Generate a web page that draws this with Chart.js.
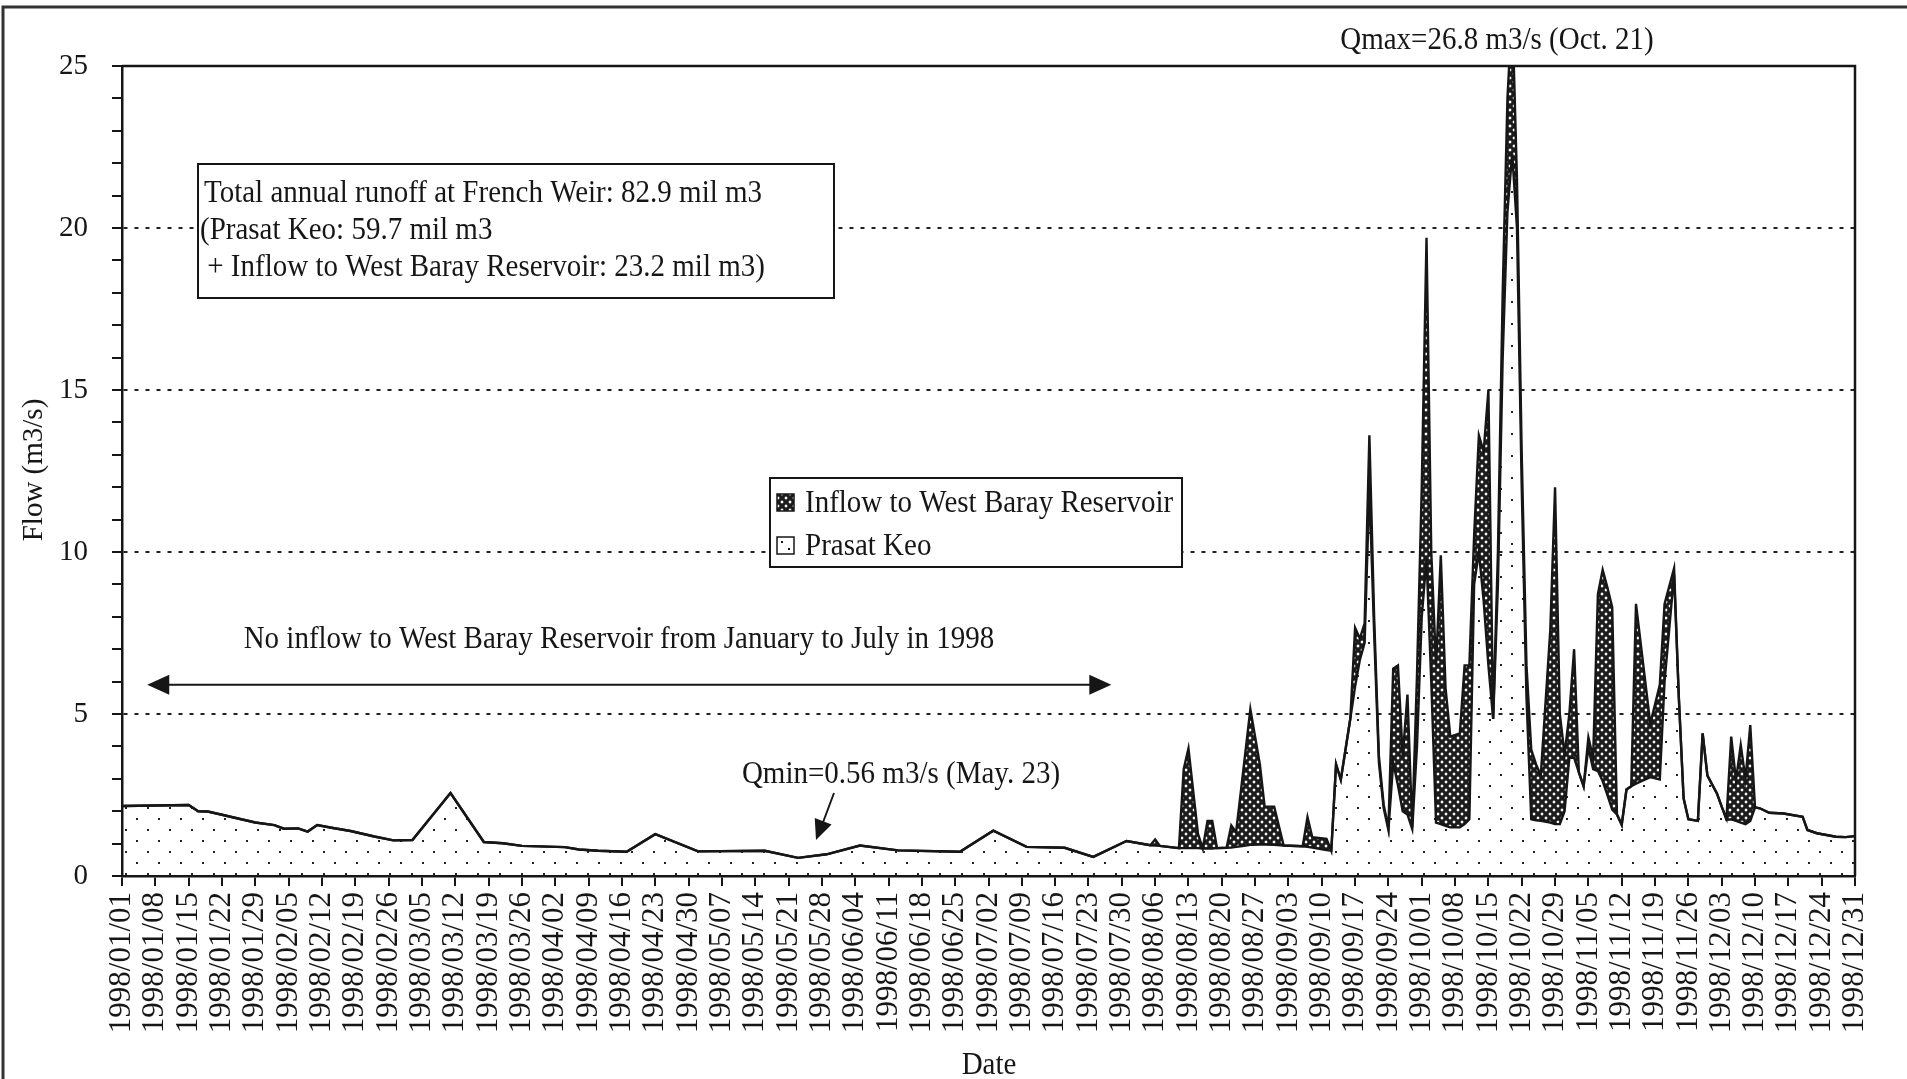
<!DOCTYPE html>
<html>
<head>
<meta charset="utf-8">
<script src="https://cdn.jsdelivr.net/npm/chart.js@4.4.1/dist/chart.umd.min.js"></script>
<style>
  html, body { margin: 0; padding: 0; background: #fff; }
</style>
</head>
<body>
<canvas id="flowChart" width="1907" height="1079"></canvas>
<script>
// day of year (0 = 1998/01/01) of each vertex of the hydrograph
const days = [
  0, 14, 16, 18, 21, 23, 28,
  32, 34, 37, 39, 41, 44, 48, 53, 57,
  61, 69, 76, 80, 84,
  93, 96, 100, 106, 112,
  121, 135, 142, 148,
  155, 163, 176,
  183, 190, 198, 204, 211,
  216, 217, 218, 222, 223, 224, 226, 227, 228, 229, 230, 232, 233, 234, 235, 237, 239, 240, 242,
  244, 248, 249, 250, 253, 254, 255, 256, 258, 259, 260, 261, 262, 263, 264, 265, 266, 267, 268, 269, 270, 271, 272,
  273, 274, 275, 276, 277, 278, 279, 281, 282, 283, 284, 285, 286, 287, 288, 289, 290, 291, 292, 293, 294, 295, 296, 297, 298, 300, 301, 302, 303,
  304, 305, 306, 307, 308, 309, 310, 311, 312, 313, 314, 315, 316, 317, 318, 321, 323, 324, 326, 327, 328, 329, 331, 332, 333,
  335, 336, 337, 338, 339, 340, 341, 342, 343, 344, 346, 349, 353, 354, 356, 360, 362, 364
];

// Prasat Keo flow (m3/s)
const prasatKeo = [
  2.16, 2.19, 2.00, 1.99, 1.89, 1.82, 1.65,
  1.57, 1.46, 1.47, 1.37, 1.57, 1.49, 1.39, 1.22, 1.10,
  1.11, 2.56, 1.05, 1.01, 0.93,
  0.89, 0.82, 0.78, 0.75, 1.29,
  0.76, 0.78, 0.56, 0.67,
  0.94, 0.79, 0.75,
  1.40, 0.90, 0.87, 0.59, 1.08,
  0.95, 0.94, 0.93, 0.86, 0.86, 0.86, 0.86, 0.85, 0.85, 0.85, 0.86, 0.87, 0.88, 0.90, 0.92, 0.96, 0.97, 0.97, 0.96,
  0.94, 0.92, 0.90, 0.88, 0.80, 0.78, 3.45, 2.97, 4.86, 5.85, 6.67, 7.20, 12.0, 7.50, 3.50, 2.10, 1.42, 3.50, 2.80, 2.00, 1.90, 1.45, 4.00,
  8.00, 9.80, 6.00, 1.65, 1.60, 1.55, 1.50, 1.50, 1.60, 1.75, 9.00, 10.0, 8.50, 6.50, 4.85, 9.00, 16.0, 20.5, 22.3, 20.0, 12.0, 5.50, 1.75, 1.72, 1.70, 1.65, 1.60, 1.60, 2.00,
  3.65, 3.65, 3.20, 2.77, 3.96, 3.30, 3.24, 2.93, 2.50, 2.05, 1.90, 1.58, 2.67, 2.77, 2.85, 3.05, 2.98, 6.00, 9.30, 5.50, 2.40, 1.75, 1.70, 4.40, 3.10,
  2.55, 2.14, 1.73, 1.75, 1.70, 1.65, 1.60, 1.70, 2.12, 2.09, 1.95, 1.93, 1.83, 1.42, 1.32, 1.21, 1.20, 1.23
];

// total flow at French Weir = Prasat Keo + inflow to West Baray Reservoir (m3/s)
const totalFlow = [
  2.16, 2.19, 2.00, 1.99, 1.89, 1.82, 1.65,
  1.57, 1.46, 1.47, 1.37, 1.57, 1.49, 1.39, 1.22, 1.10,
  1.11, 2.56, 1.05, 1.01, 0.93,
  0.89, 0.82, 0.78, 0.75, 1.29,
  0.76, 0.78, 0.56, 0.67,
  0.94, 0.79, 0.75,
  1.40, 0.90, 0.87, 0.59, 1.08,
  0.95, 1.13, 0.93, 0.86, 3.30, 3.94, 1.30, 0.85, 1.70, 1.70, 0.86, 0.87, 1.56, 1.35, 2.60, 5.15, 3.44, 2.14, 2.14,
  0.94, 0.92, 1.82, 1.20, 1.15, 0.78, 3.45, 2.97, 4.86, 7.66, 7.33, 7.80, 13.6, 8.00, 3.70, 2.20, 1.48, 6.40, 6.50, 3.70, 5.60, 1.50, 6.20,
  12.0, 19.7, 10.0, 6.50, 9.90, 5.80, 4.30, 4.40, 6.50, 6.50, 10.5, 13.6, 13.1, 15.0, 4.85, 10.0, 18.0, 24.0, 26.8, 21.5, 13.0, 6.50, 3.90, 3.45, 3.10, 7.60, 12.0, 5.00, 3.75,
  5.00, 7.00, 3.20, 2.77, 4.28, 3.65, 8.70, 9.45, 8.90, 8.30, 1.90, 1.58, 2.67, 2.77, 8.40, 4.70, 5.90, 8.40, 9.50, 5.50, 2.40, 1.75, 1.70, 4.40, 3.10,
  2.55, 2.14, 1.78, 4.30, 2.96, 4.04, 3.00, 4.66, 2.12, 2.09, 1.95, 1.93, 1.83, 1.42, 1.32, 1.21, 1.20, 1.23
];

const seriesNames = ['Inflow to West Baray Reservoir', 'Prasat Keo'];
const boxLines = [
  'Total annual runoff at French Weir: 82.9 mil m3',
  '(Prasat Keo: 59.7 mil m3',
  ' + Inflow to West Baray Reservoir: 23.2 mil m3)'
];

const FONT = '"Liberation Serif", "Times New Roman", serif';
const INK = '#161616';
Chart.defaults.font.family = FONT;
Chart.defaults.font.size = 29;
Chart.defaults.color = INK;

const canvas = document.getElementById('flowChart');
const ctx = canvas.getContext('2d');

function makePattern(w, h, paint) {
  const c = document.createElement('canvas');
  c.width = w;
  c.height = h;
  paint(c.getContext('2d'));
  return ctx.createPattern(c, 'repeat');
}

// sparse dots for Prasat Keo
const dotFill = makePattern(22, 22, g => {
  g.fillStyle = '#222';
  g.fillRect(4, 4, 2, 2);
  g.fillRect(15, 15, 2, 2);
});

// dark cross-hatch for the inflow to West Baray
const hatchFill = makePattern(8, 8, g => {
  g.fillStyle = '#1c1c1c';
  g.fillRect(0, 0, 8, 8);
  g.fillStyle = '#fff';
  for (const [cx, cy] of [[2, 2], [6, 6]]) {
    g.beginPath();
    g.moveTo(cx, cy - 1.7); g.lineTo(cx + 1.7, cy); g.lineTo(cx, cy + 1.7); g.lineTo(cx - 1.7, cy);
    g.closePath();
    g.fill();
  }
});

function dateLabel(v) {
  const d = new Date(Date.UTC(1998, 0, 1) + v * 86400000);
  const mm = String(d.getUTCMonth() + 1).padStart(2, '0');
  const dd = String(d.getUTCDate()).padStart(2, '0');
  return d.getUTCFullYear() + '/' + mm + '/' + dd;
}

function arrowHead(g, x1, y1, x2, y2, len, half) {
  const a = Math.atan2(y2 - y1, x2 - x1);
  g.beginPath();
  g.moveTo(x2, y2);
  g.lineTo(x2 - len * Math.cos(a) + half * Math.sin(a), y2 - len * Math.sin(a) - half * Math.cos(a));
  g.lineTo(x2 - len * Math.cos(a) - half * Math.sin(a), y2 - len * Math.sin(a) + half * Math.cos(a));
  g.closePath();
  g.fill();
}

// the scanned figure is a little taller than wide, so stretch the notes
function tallText(g, s, x, y) {
  g.save();
  g.translate(x, y);
  g.scale(1, 1.12);
  g.fillText(s, 0, 0);
  g.restore();
}

// frame, text box, legend, notes and arrows
const annotate = {
  id: 'annotate',
  afterDraw(chart) {
    const g = chart.ctx;
    const a = chart.chartArea;
    const x = chart.scales.x, y = chart.scales.y;
    g.save();
    g.strokeStyle = INK;
    g.fillStyle = INK;

    // plot frame top and right
    g.lineWidth = 2.5;
    g.beginPath();
    g.moveTo(a.left, a.top);
    g.lineTo(a.right, a.top);
    g.lineTo(a.right, a.bottom);
    g.stroke();

    // outer frame of the figure
    g.strokeStyle = '#333';
    g.lineWidth = 3;
    g.beginPath();
    g.moveTo(3, 1079);
    g.lineTo(3, 7);
    g.lineTo(1907, 7);
    g.stroke();
    g.strokeStyle = INK;

    g.font = '29px ' + FONT;
    g.textBaseline = 'middle';

    // Qmax note
    g.textAlign = 'center';
    tallText(g, 'Qmax=26.8 m3/s (Oct. 21)', 1497, 40);

    // runoff text box
    g.fillStyle = '#fff';
    g.fillRect(198, 164, 636, 134);
    g.lineWidth = 2;
    g.strokeRect(198, 164, 636, 134);
    g.fillStyle = INK;
    g.textAlign = 'left';
    tallText(g, boxLines[0], 204, 193);
    tallText(g, boxLines[1], 200, 230);
    tallText(g, boxLines[2], 200, 267);

    // legend
    g.fillStyle = '#fff';
    g.fillRect(770, 478, 412, 89);
    g.strokeRect(770, 478, 412, 89);
    g.fillStyle = hatchFill;
    g.fillRect(777, 494, 17, 17);
    g.lineWidth = 1.5;
    g.strokeRect(777, 494, 17, 17);
    g.fillStyle = '#fff';
    g.fillRect(777, 537, 17, 17);
    g.strokeRect(777, 537, 17, 17);
    g.fillStyle = INK;
    g.fillRect(781, 541, 2, 2);
    g.fillRect(788, 548, 2, 2);
    tallText(g, seriesNames[0], 805, 503);
    tallText(g, seriesNames[1], 805, 546);

    // "no inflow" note with double arrow
    g.textAlign = 'center';
    tallText(g, 'No inflow to West Baray Reservoir from January to July in 1998', 619, 639);
    const ay = y.getPixelForValue(5.9);
    const ax1 = x.getPixelForValue(5.3), ax2 = x.getPixelForValue(207.8);
    g.lineWidth = 2;
    g.beginPath();
    g.moveTo(ax1 + 15, ay);
    g.lineTo(ax2 - 15, ay);
    g.stroke();
    arrowHead(g, ax2 - 30, ay, ax2, ay, 22, 10);
    arrowHead(g, ax1 + 30, ay, ax1, ay, 22, 10);

    // Qmin note
    tallText(g, 'Qmin=0.56 m3/s (May. 23)', 901, 774);
    g.beginPath();
    g.moveTo(834, 793);
    g.lineTo(822, 825);
    g.stroke();
    arrowHead(g, 834, 793, 816, 840, 20, 9);

    // axis titles
    tallText(g, 'Date', 989, 1065);
    g.translate(34, 470);
    g.rotate(-Math.PI / 2);
    g.fillText('Flow (m3/s)', 0, 0);
    g.restore();
  }
};

new Chart(ctx, {
  type: 'line',
  data: {
    datasets: [
      {
        label: seriesNames[1],
        data: days.map((d, i) => ({ x: d, y: prasatKeo[i] })),
        borderColor: INK,
        borderWidth: 2.4,
        backgroundColor: dotFill,
        fill: 'origin',
        pointRadius: 0,
        tension: 0
      },
      {
        label: seriesNames[0],
        data: days.map((d, i) => ({ x: d, y: totalFlow[i] })),
        borderColor: INK,
        borderWidth: 2.4,
        backgroundColor: hatchFill,
        fill: '-1',
        pointRadius: 0,
        tension: 0
      }
    ]
  },
  options: {
    responsive: false,
    animation: false,
    devicePixelRatio: 1,
    layout: { padding: { left: 0, right: 52, top: 66, bottom: 0 } },
    plugins: { legend: { display: false }, tooltip: { enabled: false } },
    scales: {
      x: {
        type: 'linear',
        min: 0,
        max: 364,
        afterFit(s) { s.height = 203; },
        ticks: {
          stepSize: 7,
          autoSkip: false,
          minRotation: 90,
          maxRotation: 90,
          padding: 6,
          font: { size: 31 },
          callback: v => dateLabel(v)
        },
        grid: { drawOnChartArea: false, tickLength: 10, color: INK, lineWidth: 2 },
        border: { color: INK, width: 2.5 }
      },
      y: {
        min: 0,
        max: 25,
        afterFit(s) { s.width = 122; },
        ticks: {
          stepSize: 1,
          autoSkip: false,
          padding: 24,
          callback: v => (v % 5 === 0 ? v : '')
        },
        grid: {
          color: c => (c.tick && c.tick.value % 5 === 0 && c.tick.value > 0 && c.tick.value < 25) ? '#222' : 'rgba(0,0,0,0)',
          lineWidth: 2,
          tickColor: INK,
          tickLength: 10,
          tickBorderDash: []
        },
        border: { color: INK, width: 2.5, dash: [4, 7] }
      }
    }
  },
  plugins: [annotate]
});
</script>
</body>
</html>
